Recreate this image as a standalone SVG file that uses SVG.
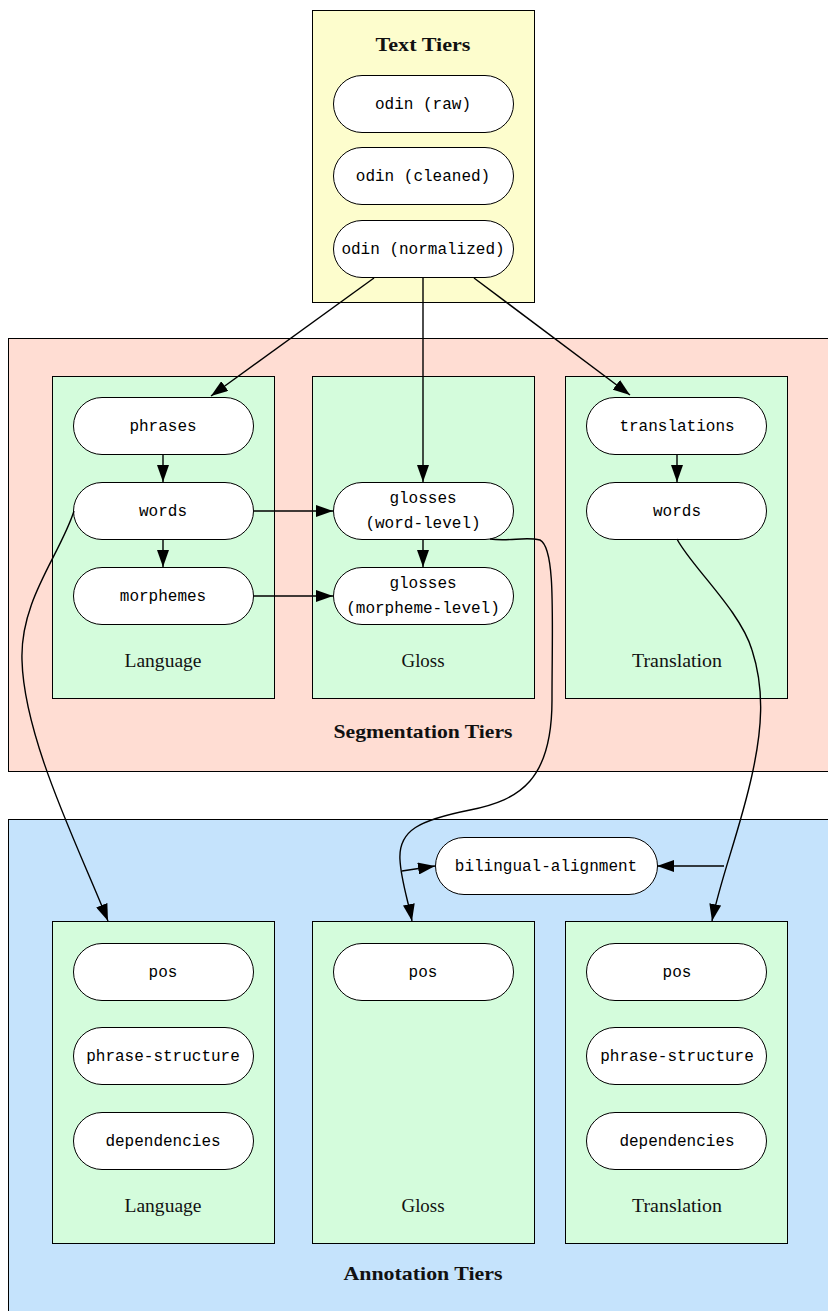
<svg xmlns="http://www.w3.org/2000/svg" width="828" height="1311" viewBox="0 0 828 1311">
<defs>
<marker id="ah" markerUnits="userSpaceOnUse" markerWidth="17" markerHeight="12" refX="17" refY="6" orient="auto">
<path d="M0,0 L17,6 L0,12 z" fill="#000"/>
</marker>
<style>
.outer{stroke:#000;stroke-width:1}
.inner{fill:#d4fcdc;stroke:#000;stroke-width:1}
.node{fill:#fff;stroke:#000;stroke-width:1}
.mono{font-family:"Liberation Mono","DejaVu Sans Mono",monospace;font-size:16px;fill:#000;text-anchor:middle}
.lbl{font-family:"Liberation Serif","DejaVu Serif",serif;font-size:18px;fill:#111;text-anchor:middle}
.title{font-family:"Liberation Serif","DejaVu Serif",serif;font-size:19px;font-weight:bold;fill:#111;text-anchor:middle}
.edge{fill:none;stroke:#000;stroke-width:1.4}
</style>
</defs>

<g id="text-tiers">
<rect class="outer" x="312.5" y="10.5" width="222" height="292" fill="#fdfdcd"/>
<text class="title" x="423" y="51" textLength="95" lengthAdjust="spacingAndGlyphs">Text Tiers</text>
</g>
<g id="odin-raw"><rect class="node" x="333.5" y="75.5" width="180" height="57" rx="28.5"/><text class="mono" x="423" y="109">odin (raw)</text></g>
<g id="odin-cleaned"><rect class="node" x="333.5" y="147.5" width="180" height="57" rx="28.5"/><text class="mono" x="423" y="181">odin (cleaned)</text></g>
<g id="odin-normalized"><rect class="node" x="333.5" y="220.5" width="180" height="57" rx="28.5"/><text class="mono" x="423" y="254">odin (normalized)</text></g>

<g id="segmentation-tiers">
<rect class="outer" x="8.5" y="338.5" width="830" height="433" fill="#ffddd3"/>
<text class="title" x="423" y="738" textLength="179" lengthAdjust="spacingAndGlyphs">Segmentation Tiers</text>
</g>
<g id="seg-language"><rect class="inner" x="52.5" y="376.5" width="222" height="322"/><text class="lbl" x="163" y="667" textLength="77" lengthAdjust="spacingAndGlyphs">Language</text></g>
<g id="seg-gloss"><rect class="inner" x="312.5" y="376.5" width="222" height="322"/><text class="lbl" x="423" y="667" textLength="43" lengthAdjust="spacingAndGlyphs">Gloss</text></g>
<g id="seg-translation"><rect class="inner" x="565.5" y="376.5" width="222" height="322"/><text class="lbl" x="677" y="667" textLength="90" lengthAdjust="spacingAndGlyphs">Translation</text></g>

<g id="phrases"><rect class="node" x="73.5" y="397.5" width="180" height="57" rx="28.5"/><text class="mono" x="163" y="431">phrases</text></g>
<g id="words-lang"><rect class="node" x="73.5" y="482.5" width="180" height="57" rx="28.5"/><text class="mono" x="163" y="516">words</text></g>
<g id="morphemes"><rect class="node" x="73.5" y="567.5" width="180" height="57" rx="28.5"/><text class="mono" x="163" y="601">morphemes</text></g>
<g id="glosses-word"><rect class="node" x="333.5" y="482.5" width="180" height="57" rx="28.5"/><text class="mono" x="423" y="503">glosses</text><text class="mono" x="423" y="528">(word-level)</text></g>
<g id="glosses-morpheme"><rect class="node" x="333.5" y="567.5" width="180" height="57" rx="28.5"/><text class="mono" x="423" y="588">glosses</text><text class="mono" x="423" y="613">(morpheme-level)</text></g>
<g id="translations"><rect class="node" x="586.5" y="397.5" width="180" height="57" rx="28.5"/><text class="mono" x="677" y="431">translations</text></g>
<g id="words-trans"><rect class="node" x="586.5" y="482.5" width="180" height="57" rx="28.5"/><text class="mono" x="677" y="516">words</text></g>

<g id="annotation-tiers">
<rect class="outer" x="8.5" y="819.5" width="830" height="520" fill="#c5e3fc"/>
<text class="title" x="423" y="1280" textLength="159" lengthAdjust="spacingAndGlyphs">Annotation Tiers</text>
</g>
<g id="ann-language"><rect class="inner" x="52.5" y="921.5" width="222" height="322"/><text class="lbl" x="163" y="1212" textLength="77" lengthAdjust="spacingAndGlyphs">Language</text></g>
<g id="ann-gloss"><rect class="inner" x="312.5" y="921.5" width="222" height="322"/><text class="lbl" x="423" y="1212" textLength="43" lengthAdjust="spacingAndGlyphs">Gloss</text></g>
<g id="ann-translation"><rect class="inner" x="565.5" y="921.5" width="222" height="322"/><text class="lbl" x="677" y="1212" textLength="90" lengthAdjust="spacingAndGlyphs">Translation</text></g>

<g id="bilingual-alignment"><rect class="node" x="435.5" y="837.5" width="222" height="57" rx="28.5"/><text class="mono" x="546" y="871">bilingual-alignment</text></g>
<g id="pos-lang"><rect class="node" x="73.5" y="943.5" width="180" height="57" rx="28.5"/><text class="mono" x="163" y="977">pos</text></g>
<g id="ps-lang"><rect class="node" x="73.5" y="1027.5" width="180" height="57" rx="28.5"/><text class="mono" x="163" y="1061">phrase-structure</text></g>
<g id="dep-lang"><rect class="node" x="73.5" y="1112.5" width="180" height="57" rx="28.5"/><text class="mono" x="163" y="1146">dependencies</text></g>
<g id="pos-gloss"><rect class="node" x="333.5" y="943.5" width="180" height="57" rx="28.5"/><text class="mono" x="423" y="977">pos</text></g>
<g id="pos-trans"><rect class="node" x="586.5" y="943.5" width="180" height="57" rx="28.5"/><text class="mono" x="677" y="977">pos</text></g>
<g id="ps-trans"><rect class="node" x="586.5" y="1027.5" width="180" height="57" rx="28.5"/><text class="mono" x="677" y="1061">phrase-structure</text></g>
<g id="dep-trans"><rect class="node" x="586.5" y="1112.5" width="180" height="57" rx="28.5"/><text class="mono" x="677" y="1146">dependencies</text></g>

<g id="connectors">
<path class="edge" d="M374,278 L211,396" marker-end="url(#ah)"/>
<path class="edge" d="M423,278 L423,482" marker-end="url(#ah)"/>
<path class="edge" d="M474,278 L630,395" marker-end="url(#ah)"/>
<path class="edge" d="M163,455 L163,482" marker-end="url(#ah)"/>
<path class="edge" d="M163,540 L163,567" marker-end="url(#ah)"/>
<path class="edge" d="M423,540 L423,567" marker-end="url(#ah)"/>
<path class="edge" d="M677,455 L677,482" marker-end="url(#ah)"/>
<path class="edge" d="M254,511 L333,511" marker-end="url(#ah)"/>
<path class="edge" d="M254,596 L333,596" marker-end="url(#ah)"/>
<path class="edge" d="M74,511 C60,555 20,600 22,660 C24,740 80,850 108,921" marker-end="url(#ah)"/>
<path class="edge" d="M490,539 C510,542 525,536 540,540 C556,548 552,620 552,700 C552,780 520,800 470,810 C420,820 398,830 400,860 C401,880 408,900 412,921" marker-end="url(#ah)"/>
<path class="edge" d="M402,871 L435,866" marker-end="url(#ah)"/>
<path class="edge" d="M677,539 C690,565 740,610 752,650 C765,690 762,730 752,775 C740,830 720,880 712,921" marker-end="url(#ah)"/>
<path class="edge" d="M724,866 L657,866" marker-end="url(#ah)"/>
</g>
</svg>
